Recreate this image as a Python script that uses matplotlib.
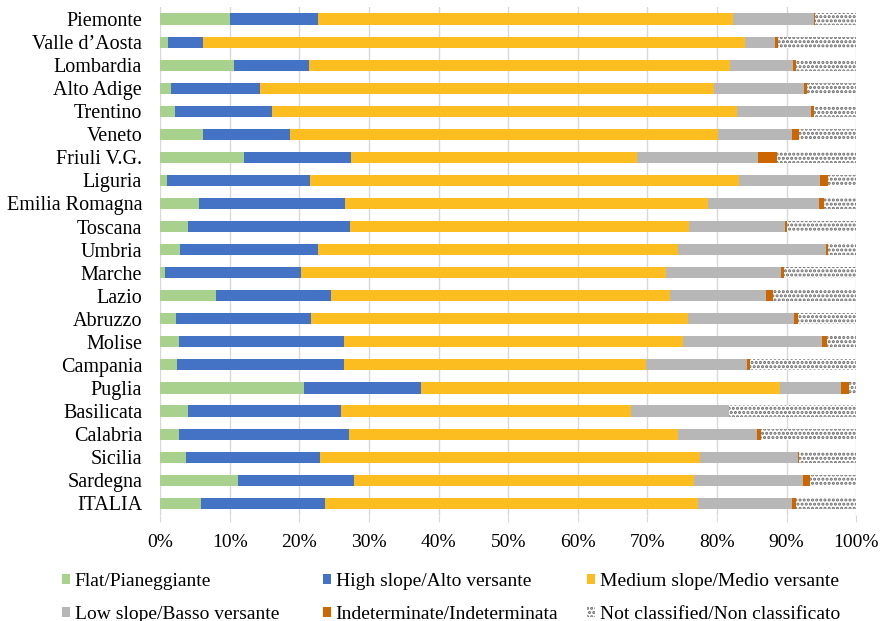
import matplotlib.pyplot as plt
import numpy as np
from matplotlib.patches import Patch

plt.rcParams['font.family'] = ['Liberation Serif', 'DejaVu Serif']
plt.rcParams['hatch.linewidth'] = 1.5

regions = ["Piemonte", "Valle d\u2019Aosta", "Lombardia", "Alto Adige", "Trentino",
           "Veneto", "Friuli V.G.", "Liguria", "Emilia Romagna", "Toscana",
           "Umbria", "Marche", "Lazio", "Abruzzo", "Molise", "Campania",
           "Puglia", "Basilicata", "Calabria", "Sicilia", "Sardegna", "ITALIA"]

# cumulative ends (%)
flat_end = [10.0, 1.1, 10.6, 1.5, 2.1, 6.2, 12.1, 1.0, 5.6, 4.0, 2.9,
            0.7, 8.0, 2.3, 2.7, 2.4, 20.6, 4.0, 2.7, 3.7, 11.2, 5.8]
high_end = [22.7, 6.2, 21.4, 14.4, 16.1, 18.7, 27.4, 21.5, 26.6, 27.3, 22.7,
            20.2, 24.5, 21.7, 26.4, 26.4, 37.5, 26.0, 27.2, 23.0, 27.8, 23.7]
medium_end = [82.3, 84.0, 81.9, 79.5, 82.8, 80.1, 68.5, 83.2, 78.7, 76.0, 74.4,
              72.6, 73.2, 75.9, 75.1, 69.8, 89.1, 67.6, 74.4, 77.5, 76.7, 77.2]
low_end = [94.0, 88.3, 90.9, 92.5, 93.5, 90.7, 85.9, 94.8, 94.7, 89.8, 95.7,
           89.2, 87.0, 91.0, 95.1, 84.3, 97.8, 81.7, 85.8, 91.7, 92.4, 90.8]
indet_end = [94.1, 88.7, 91.4, 92.9, 94.0, 91.8, 88.6, 96.0, 95.3, 90.0, 96.0,
             89.6, 88.1, 91.6, 95.8, 84.8, 98.9, 81.7, 86.3, 91.8, 93.4, 91.4]

flat = np.array(flat_end)
high = np.array(high_end) - np.array(flat_end)
medium = np.array(medium_end) - np.array(high_end)
low = np.array(low_end) - np.array(medium_end)
indet = np.array(indet_end) - np.array(low_end)
notcl = 100 - np.array(indet_end)

series = [flat, high, medium, low, indet]
labels = ["Flat/Pianeggiante", "High slope/Alto versante", "Medium slope/Medio versante",
          "Low slope/Basso versante", "Indeterminate/Indeterminata", "Not classified/Non classificato"]
colors = ["#a9d18e", "#4472c4", "#fbbd1f", "#b7b7b7", "#cc6600"]
hatch_col = '#6a6a6a'

fig = plt.figure(figsize=(8.8, 6.21), dpi=100)
ax = fig.add_axes([0.182, 0.171, 0.791, 0.817])

y = np.arange(len(regions))
left = np.zeros(len(regions))
for vals, c in zip(series, colors):
    ax.barh(y, vals, left=left, height=0.48, color=c, linewidth=0, zorder=2)
    left += vals
ax.barh(y, notcl, left=left, height=0.48, color='white', edgecolor=hatch_col,
        hatch='....', linewidth=0, zorder=2)

ax.set_xlim(0, 100)
ax.set_ylim(len(regions) - 0.5, -0.5)
ax.set_yticks(y)
ax.set_yticklabels(regions, fontsize=14.5)
ax.set_xticks(np.arange(0, 101, 10))
ax.set_xticklabels([f"{v}%" for v in range(0, 101, 10)], fontsize=14)
ax.grid(axis='x', color='#d9d9d9', linewidth=1, zorder=0)
for s in ax.spines.values():
    s.set_visible(False)
ax.tick_params(axis='y', length=0, pad=13)
ax.tick_params(axis='x', length=5, color='#d9d9d9', pad=9)

handles = [Patch(facecolor=c, label=l) for c, l in zip(colors, labels[:5])]
handles.append(Patch(facecolor='white', edgecolor=hatch_col, hatch='....',
                     linewidth=0, label=labels[5]))

# three legend columns placed like the original
col_x = [62, 323, 587]
for k, x0 in enumerate(col_x):
    idx = [k, k + 3]
    fig.legend([handles[i] for i in idx], [labels[i] for i in idx],
               loc='upper left', bbox_to_anchor=(x0 / 880, 0.077),
               frameon=False, fontsize=14, handlelength=0.4,
               handleheight=0.4, handletextpad=0.25, labelspacing=0.8,
               borderpad=0, borderaxespad=0)

fig.savefig("out.png", dpi=100)
